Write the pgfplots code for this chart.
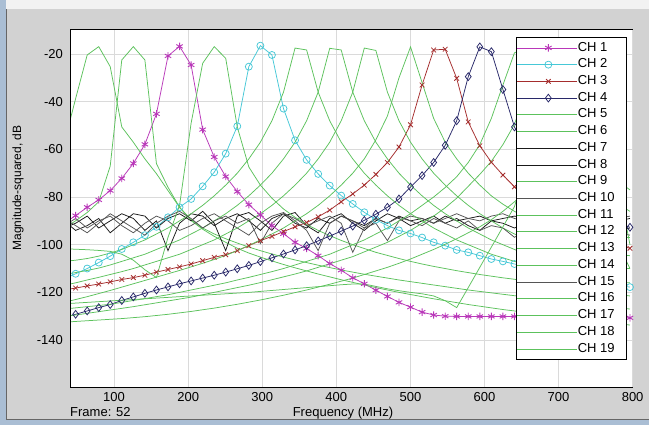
\documentclass[border=0pt]{standalone}
\usepackage{fontspec}
\setmainfont{Liberation Sans}
\usepackage{pgfplots}
\usepackage{pgfplotstable}
\pgfplotsset{compat=1.18}

\definecolor{cOne}{RGB}{185,55,185}
\definecolor{cTwo}{RGB}{70,200,215}
\definecolor{cThree}{RGB}{165,45,45}
\definecolor{cFour}{RGB}{40,40,105}
\definecolor{cGreen}{RGB}{92,194,92}
\definecolor{cBlack}{RGB}{25,25,25}
\definecolor{cGray}{RGB}{85,85,85}
\definecolor{winbg}{RGB}{210,210,210}
\definecolor{topband}{RGB}{242,242,242}
\definecolor{frameblue}{RGB}{170,190,212}
\definecolor{gridc}{RGB}{218,218,218}

\pgfplotstableread{
f c1 c2 c3 c4 c5 c6 c7 c8 c9 c10 c11 c12 c13 c14 c15 c16 c17 c18 c19
32.5 -91 -114.3 -119 -130.5 -57.6 -93 -93 -90 -101.7 -92 -107 -112.5 -117 -124.2 -89 -127 -130 -124.8 -132.5
48.1 -87.8 -112.2 -118.2 -129.2 -38.7 -90 -91 -94 -101.9 -89 -106.5 -111.7 -116 -123 -92 -126.5 -129.5 -124.5 -132.2
63.7 -84.3 -110 -117.3 -127.8 -20.4 -86.5 -88 -92 -102.1 -93 -105.8 -110.8 -114.8 -121.8 -95 -126 -128.8 -124.2 -131.9
79.3 -81.2 -107.5 -116.5 -126.4 -16.9 -82 -93 -89 -102.4 -90 -104.8 -109.8 -113.7 -120.5 -91 -125.5 -128.1 -123.9 -131.6
94.8 -77.3 -104.8 -115.6 -125.1 -25.3 -67 -90 -95 -102.8 -88 -103.5 -108.5 -112.5 -119.2 -87 -125 -127.4 -123.6 -131.3
110.4 -72.2 -101.8 -114.6 -123.4 -50.6 -22.5 -87 -91 -104 -92 -102 -107 -111.3 -117.8 -90 -124.2 -126.7 -123.3 -131
126.0 -65.9 -99 -113.8 -121.9 -57 -16.9 -89 -87 -106.5 -95 -100 -105.5 -110 -116.4 -93 -123.4 -126 -123 -130.6
141.6 -57.9 -96 -112.8 -120.4 -64 -22.5 -94 -88 -110.5 -91 -98 -104 -108.5 -115 -96 -122.6 -125.2 -122.7 -130.2
157.2 -45.1 -92.5 -111.5 -119 -70.2 -66 -90 -93 -113.8 -88 -95.5 -102 -107 -113.6 -91 -121.8 -124.4 -122.4 -129.7
172.8 -20.8 -88.5 -110.4 -117.7 -77.3 -75.9 -102.5 -89 -96.9 -90 -93 -100 -105.5 -112.2 -88 -121 -123.6 -122.1 -129.2
188.4 -16.8 -84.3 -109.3 -116.4 -84.3 -84.3 -91 -87 -83.5 -94 -90 -98 -104 -110.8 -86 -120 -122.8 -121.8 -128.6
204.0 -24.6 -80.8 -108.1 -115.2 -89.9 -89.5 -87 -90 -49 -92 -87 -95.5 -102 -109.3 -89 -119 -122 -121.5 -128
219.6 -51.7 -75.5 -106.7 -114 -93.5 -93 -88 -86 -23.9 -89 -83.5 -93 -100 -107.8 -93 -118 -121 -121.2 -127.3
235.2 -63.2 -69.6 -105.3 -112.8 -96.5 -95.5 -92 -91 -16.9 -87 -79.5 -90 -98 -106.2 -90 -117 -120 -120.9 -126.6
250.7 -71.4 -61.8 -104.2 -111.5 -99 -97.5 -89 -102.5 -21.8 -90 -75 -87 -95.5 -104.5 -88 -116 -119 -120.6 -125.8
266.3 -77.7 -50.3 -102.5 -110.1 -101.5 -99.3 -87 -88 -50.6 -93 -70 -83.5 -93 -102.5 -91 -114.8 -118 -120.3 -125
281.9 -83.2 -25.3 -100.4 -108.7 -103.5 -101 -90 -86.5 -67.4 -96 -64 -79.5 -90 -100.3 -89 -113.7 -117 -120 -124.1
297.5 -87.5 -16.5 -98.3 -107.1 -105.2 -102.5 -94 -90 -75 -91 -57 -75 -87 -98 -99.5 -112.5 -115.9 -119.6 -123.2
313.1 -92 -20.4 -96.5 -105.5 -106.8 -103.9 -89 -94 -80.5 -88 -48 -70 -83.5 -95.5 -91 -111.3 -114.7 -119.2 -122.2
328.7 -95.4 -42.9 -94.5 -103.9 -108.3 -105.2 -87 -88 -85 -86.5 -36 -64 -79.5 -93 -87 -110 -113.5 -118.8 -121.2
344.3 -99 -56.2 -92.5 -102.2 -109.7 -106.4 -91 -86.5 -88.5 -90 -17.5 -57 -75 -90 -89 -108.5 -112.3 -118.4 -120.1
359.9 -101.6 -64.4 -90.7 -100.4 -111 -107.5 -93 -92 -91.5 -94 -18.3 -48 -70 -87 -92 -107 -111 -118 -119
375.5 -104.6 -70.3 -88.3 -98.4 -112.3 -108.6 -89 -95 -94 -102.5 -36 -36 -64 -83.5 -90 -105.5 -109.5 -117.6 -117.8
391.1 -107.9 -75.2 -85.5 -96.4 -113.5 -109.6 -91 -89 -96.2 -91 -48 -17.6 -57 -79.5 -88 -104 -108 -117.2 -116.6
406.6 -110.7 -79.4 -82 -94.3 -114.7 -110.6 -88 -87 -98.2 -88 -57 -18.3 -48 -75 -91 -102 -106.5 -116.8 -115.3
422.2 -113.9 -82.9 -78.7 -92.2 -115.8 -111.5 -90 -91 -100 -90 -64 -36 -36 -70 -103.2 -100 -105 -116.5 -114
437.8 -116.4 -86.4 -75 -89.8 -116.9 -112.4 -92 -94 -101.6 -93 -70 -48 -17.5 -64 -93 -98 -103 -116.5 -112.5
453.4 -119.1 -89.5 -70.5 -87.2 -118 -113.2 -89 -90 -103.2 -91 -75 -57 -18.5 -56 -89 -95.5 -101 -117.5 -111
469.0 -121.7 -92 -65.5 -84.3 -119 -114 -91 -87 -104.5 -98.3 -79.5 -64 -36 -46 -91 -93 -99 -118.5 -109.5
484.6 -124.2 -94 -59 -80.8 -120 -114.8 -88 -89 -105.8 -90 -83.5 -70 -48 -30 -88.5 -90 -96.5 -119.3 -107.8
500.2 -126.2 -95.3 -49.7 -75.8 -120.9 -115.5 -90 -92 -107 -88 -87 -75 -57 -17 -90 -87 -94 -120 -106
515.8 -128.3 -97 -33 -71 -121.8 -116.2 -89 -90 -108.1 -89 -90 -79.5 -64 -32 -92 -83.5 -91 -120.6 -104
531.4 -129.5 -99 -18.3 -65.5 -122.7 -116.9 -91 -88 -109.1 -91 -93 -83.5 -70 -47 -89 -80 -88 -121.5 -102
547.0 -130 -100.4 -18 -58.3 -123.5 -117.6 -88 -91 -110 -89 -95.5 -87 -75 -57 -91 -76 -84.5 -123.5 -99.8
562.5 -130.1 -102.2 -30.2 -48 -124.3 -118.3 -90 -89 -110.9 -87 -98 -90 -79.5 -64 -93 -71.5 -80.5 -126.4 -97.5
578.1 -130.1 -103.2 -48.5 -29.5 -125.1 -119 -89 -92 -111.7 -89 -100 -93 -83.5 -70 -90 -65.5 -75.5 -118 -95
593.7 -130.1 -104.6 -58.5 -17 -125.8 -119.6 -88 -94 -112.5 -90 -102 -95.5 -87 -75 -94 -58 -70.5 -109.5 -92.5
609.3 -130.1 -106 -65.4 -19 -126.5 -120.2 -90 -90 -113.2 -88 -104 -98 -90 -79.5 -92 -47 -65 -101 -89.5
624.9 -130.1 -107 -70.8 -34.9 -127.2 -120.8 -89 -91 -113.9 -87 -105.5 -100 -93 -83 -93 -33 -58 -92.5 -86
640.5 -130.1 -108.1 -75.7 -50.6 -127.8 -121.4 -88 -93 -114.5 -89 -107 -102 -95.5 -86 -96.9 -19.5 -49.5 -84 -82
656.1 -130.2 -109 -80.3 -60 -128.5 -122 -89 -91 -115.3 -90 -108.5 -104 -97.5 -88.5 -94 -17.5 -35 -68 -77.5
671.7 -130.2 -110 -84.3 -66.5 -129.1 -122.6 -90 -92 -116 -88 -110 -105.5 -99 -90.5 -95 -36 -18 -45 -72
687.3 -130.3 -111 -87.8 -71.5 -129.7 -123.2 -88 -93 -116.7 -87 -111.3 -107 -100.3 -92.2 -94 -48 -17.5 -22 -66
702.9 -130.3 -112 -90.8 -76 -130.3 -123.8 -89 -91 -117.4 -88 -112.5 -108 -101.3 -93.6 -96 -57 -36 -17.5 -58
718.4 -130.4 -113 -93.3 -80 -130.9 -124.3 -90 -92 -118.1 -89 -113.5 -108.8 -102.1 -94.7 -95 -64 -48 -24 -45
734.0 -130.4 -114 -95.4 -83.5 -131.5 -124.8 -89 -94 -118.8 -88 -114.3 -109.3 -102.8 -95.6 -96 -70 -57 -50 -21
749.6 -130.5 -115 -97.2 -86.5 -132 -125.3 -88 -93 -119.5 -87 -115 -109.6 -103.4 -96.2 -97 -75 -64 -72 -17.5
765.2 -130.5 -116 -98.8 -89 -132.6 -125.8 -89 -92 -120.2 -88 -115.5 -109.8 -103.9 -96.6 -96 -79.5 -69 -88 -40
780.8 -130.6 -117 -100.2 -91 -133.2 -126.4 -90 -94 -120.9 -89 -115.8 -110 -104.3 -96.9 -95 -83 -73.5 -100 -75
796.4 -130.7 -117.8 -101.5 -92.7 -133.7 -127 -89 -93 -121.5 -88 -116 -110 -104.6 -97 -96 -86 -77 -110 -100
}\data

\begin{document}
\begin{tikzpicture}[x=1pt,y=1pt]
\fill[winbg] (0,0) rectangle (649,425);
\useasboundingbox (0,0) rectangle (649,425);
\fill[topband] (0,416) rectangle (649,425);
\fill[frameblue] (0,0) rectangle (6,425);
\draw[gray!80!black, line width=0.8pt] (6,0) -- (6,416);
\begin{axis}[
  name=ax, at={(70pt,38pt)}, anchor=south west,
  scale only axis, width=563pt, height=358pt,
  xmin=40.5, xmax=800.5, ymin=-159.7, ymax=-9.5,
  xtick={100,200,...,800}, ytick={-140,-120,...,-20},
  grid=major, grid style={line width=0.7pt, draw=gridc},
  major tick length=0pt,
  axis line style={draw=none},
  axis background/.style={fill=white},
  tick label style={font=\fontsize{13}{13}\selectfont},
  /pgf/number format/assume math mode=true,
  yticklabel style={inner sep=0pt, xshift=-7pt},
  xticklabel style={inner sep=0pt, yshift=-5pt},
  every axis plot/.append style={line width=0.75pt},
  legend cell align=left,
  legend style={at={(0.9893,0.9777)}, anchor=north east, draw=black, fill=white,
    line width=0.6pt, inner xsep=0pt, inner ysep=2.3pt, row sep=0pt, column sep=0pt,
    font=\fontsize{13}{13}\selectfont,
    nodes={inner sep=0pt, text height=11.5pt, text depth=5.22pt}},
  legend image code/.code={%
    \path (0pt,0pt) -- (60.3pt,0pt);
    \draw[mark repeat=2, mark phase=2, #1] plot coordinates {(8.7pt,0pt) (31.2pt,0pt) (53.7pt,0pt)};},
]
\addplot[cOne, mark=asterisk, mark size=3.7pt, mark options={solid, line width=0.9pt}] table[x=f,y=c1]{\data};
\addplot[cTwo, mark=o, mark size=3.5pt, mark options={solid}] table[x=f,y=c2]{\data};
\addplot[cThree, mark=x, mark size=3.3pt, mark options={solid}] table[x=f,y=c3]{\data};
\addplot[cFour, mark=diamond, mark size=3.9pt, mark options={solid}] table[x=f,y=c4]{\data};
\addplot[cGreen, no marks] table[x=f,y=c5]{\data};
\addplot[cGreen, no marks] table[x=f,y=c6]{\data};
\addplot[cBlack, no marks] table[x=f,y=c7]{\data};
\addplot[cBlack, no marks] table[x=f,y=c8]{\data};
\addplot[cGreen, no marks] table[x=f,y=c9]{\data};
\addplot[cGray, no marks] table[x=f,y=c10]{\data};
\addplot[cGreen, no marks] table[x=f,y=c11]{\data};
\addplot[cGreen, no marks] table[x=f,y=c12]{\data};
\addplot[cGreen, no marks] table[x=f,y=c13]{\data};
\addplot[cGreen, no marks] table[x=f,y=c14]{\data};
\addplot[cGray, no marks] table[x=f,y=c15]{\data};
\addplot[cGreen, no marks] table[x=f,y=c16]{\data};
\addplot[cGreen, no marks] table[x=f,y=c17]{\data};
\addplot[cGreen, no marks] table[x=f,y=c18]{\data};
\addplot[cGreen, no marks] table[x=f,y=c19]{\data};
\legend{CH 1\hspace*{12pt},CH 2,CH 3,CH 4,CH 5,CH 6,CH 7,CH 8,CH 9,CH 10,CH 11,CH 12,CH 13,CH 14,CH 15,CH 16,CH 17,CH 18,CH 19\hspace*{12pt}}
\end{axis}
\draw[black, line width=0.9pt] (ax.north east) -- (ax.north west) -- (ax.south west) -- (ax.south east);
\node[rotate=90, font=\fontsize{12}{12}\selectfont, anchor=center] at (18,237) {Magnitude-squared, dB};
\node[font=\fontsize{13}{13}\selectfont, anchor=base] at (343,8.5) {Frequency (MHz)};
\node[font=\fontsize{13}{13}\selectfont, anchor=base west, inner sep=0pt] at (70,8.5) {Frame: 52};
\fill[frameblue] (6,0) rectangle (649,6);
\draw[gray!80!black, line width=0.8pt] (6,6) -- (649,6);
\end{tikzpicture}
\end{document}
